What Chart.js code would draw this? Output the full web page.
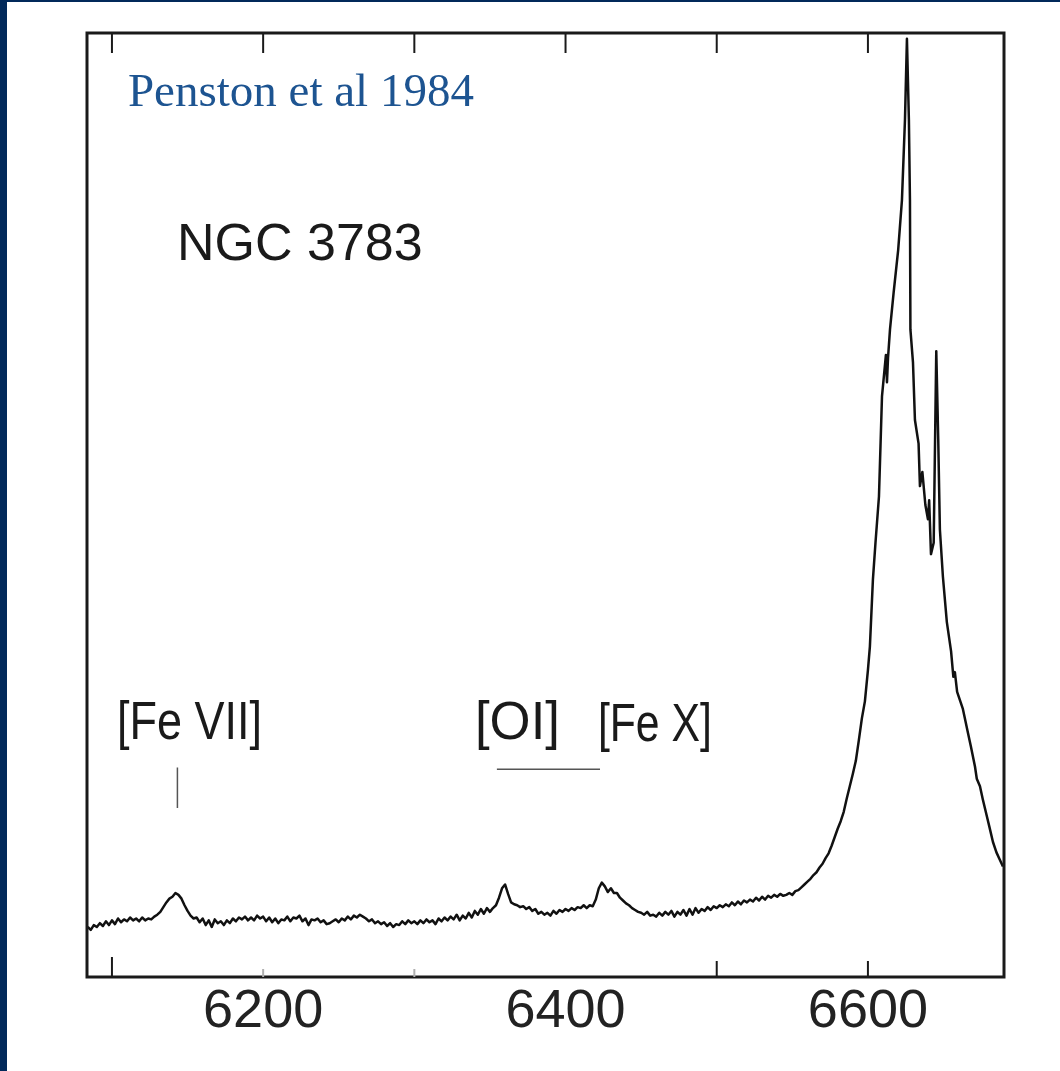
<!DOCTYPE html>
<html>
<head>
<meta charset="utf-8">
<title>NGC 3783</title>
<script src="https://cdn.jsdelivr.net/npm/chart.js@4.4.1/dist/chart.umd.min.js"></script>
<style>
  html, body { margin: 0; padding: 0; background: #fff; }
  #wrap { position: relative; width: 1060px; height: 1071px; }
  #bar-left { position: absolute; left: 0; top: 0; width: 7px; height: 1071px; background: #01295a; }
  #bar-top { position: absolute; left: 0; top: 0; width: 1060px; height: 2px; background: #01295a; }
</style>
</head>
<body>
<div id="wrap">
  <canvas id="spec" width="1060" height="1071"></canvas>
  <div id="bar-left"></div>
  <div id="bar-top"></div>
</div>
<script>
// continuum, sampled every 2 A from 6084 A
const contStart = 6084;
const contStep = 2;
const contFlux = [
  5.3, 5.0, 5.5, 5.3, 5.7, 5.4, 5.9, 5.5, 6.0, 5.6,
  6.2, 5.8, 6.1, 5.9, 6.3, 6.0, 6.2, 5.9, 6.3, 6.0,
  6.2, 6.1, 6.4, 6.6, 6.9, 7.4, 7.9, 8.3, 8.5, 8.9,
  8.7, 8.3, 7.6, 7.0, 6.5, 6.2, 6.3, 5.8, 6.2, 5.5,
  6.0, 5.3, 6.1, 5.7, 5.9, 5.5, 6.0, 5.7, 6.2, 5.9,
  6.3, 6.1, 6.4, 6.0, 6.3, 6.0, 6.5, 6.2, 6.4, 5.9,
  6.3, 5.8, 6.2, 5.7, 6.1, 6.0, 6.4, 5.9, 6.3, 6.2,
  6.5, 5.9, 6.2, 5.5, 6.1, 6.0, 6.2, 5.8, 6.0, 5.6,
  5.7, 5.9, 6.1, 5.8, 6.2, 6.0, 6.4, 6.1, 6.5, 6.3,
  6.6, 6.4, 6.2, 5.9, 6.1, 5.7, 5.9, 5.6, 5.8, 5.4,
  5.7, 5.3, 5.6, 5.5, 5.9, 5.6, 6.0, 5.7, 5.9, 5.6,
  6.0, 5.7, 6.1, 5.8, 6.0, 5.6, 6.2, 5.9, 6.3, 6.0,
  6.4, 6.1, 6.6, 6.0, 6.5, 6.2, 6.8, 6.3, 7.0, 6.6,
  7.2, 6.7, 7.3, 6.9, 7.3, 7.6, 8.4, 9.4, 9.8, 8.8,
  7.9, 7.7, 7.6, 7.4, 7.5, 7.2, 7.4, 7.0, 7.2, 6.7,
  6.9, 6.6, 6.8, 6.5, 7.0, 6.7, 7.1, 6.9, 7.2, 7.0,
  7.3, 7.1, 7.4, 7.3, 7.6, 7.3, 7.6, 7.5, 8.2, 9.4,
  10.0, 9.6, 9.0, 9.4, 8.9, 8.9, 8.4, 8.1, 7.8, 7.6,
  7.3, 7.1, 6.9, 6.8, 6.6, 6.9, 6.5, 6.6, 6.4, 6.8,
  6.5, 6.9, 6.6, 7.0, 6.4, 6.9, 6.6, 7.1, 6.5, 7.2,
  6.6, 7.3, 6.8, 7.2, 7.0, 7.4, 7.1, 7.5, 7.3, 7.6,
  7.4, 7.7, 7.5, 7.9, 7.6, 8.0, 7.7, 8.1, 7.9, 8.2,
  8.0, 8.4, 8.1, 8.5, 8.2, 8.6, 8.4, 8.7, 8.5, 8.8,
  8.6, 8.7, 8.9, 8.7, 9.1, 9.2, 9.5, 9.8, 10.1, 10.4,
  10.8, 11.1, 11.6, 12.0, 12.6, 13.1, 13.9, 14.8, 15.7, 16.5,
  17.5, 18.9, 20.2, 21.5, 22.9, 25.1, 27.4, 29.2
];

// H-alpha + [N II] blend
const lineWave = [
  6600.0, 6601.3, 6603.3, 6605.0, 6607.3, 6609.3, 6611.9, 6612.6, 6613.3, 6614.6,
  6617.0, 6620.0, 6622.5, 6624.5, 6625.8, 6627.1, 6627.8, 6628.1, 6629.8, 6631.1,
  6633.5, 6634.4, 6636.0, 6638.0, 6639.7, 6640.5, 6641.7, 6643.5, 6645.2, 6646.5,
  6647.6, 6649.6, 6652.2, 6655.0, 6656.5, 6657.5, 6659.0, 6662.8, 6664.0, 6666.1,
  6668.0, 6670.8, 6672.0, 6674.1, 6676.0, 6678.7, 6680.5, 6682.7, 6685.0, 6687.0,
  6689.3
];
const lineFlux = [
  32.5, 35.0, 42.1, 46.0, 50.9, 61.5, 65.9, 63.0, 65.6, 68.6,
  72.5, 77.0, 82.3, 90.8, 99.4, 90.8, 82.3, 68.6, 65.1, 59.0,
  56.5, 52.0, 53.5, 50.0, 48.5, 50.5, 44.8, 46.0, 66.3, 57.0,
  47.4, 42.4, 37.6, 34.5, 31.8, 32.3, 30.2, 28.4, 27.5, 25.9,
  24.5, 22.3, 21.0, 20.2, 18.8, 17.0, 15.8, 14.3, 13.2, 12.5,
  11.7
];

const tickWaves = [6100, 6200, 6300, 6400, 6500, 6600];
const labelWaves = [6200, 6400, 6600];

const spectrum = contFlux.map((f, i) => ({ x: contStart + i * contStep, y: f }))
  .concat(lineWave.map((w, i) => ({ x: w, y: lineFlux[i] })));

// box, inward ticks and the line identifications
const frameAndNotes = {
  id: 'frameAndNotes',
  afterDatasetsDraw(chart) {
    const { ctx, chartArea: a, scales: { x, y } } = chart;
    ctx.save();
    ctx.strokeStyle = '#1a1a1a';
    ctx.lineWidth = 3;
    ctx.strokeRect(a.left, a.top, a.right - a.left, a.bottom - a.top);

    ctx.lineWidth = 2;
    tickWaves.forEach(w => {
      const px = x.getPixelForValue(w);
      ctx.strokeStyle = '#1a1a1a';
      ctx.beginPath();
      ctx.moveTo(px, a.top);
      ctx.lineTo(px, a.top + 20);
      ctx.stroke();
      // bottom ticks came out patchy on the plate
      if (w === 6400) return;
      let len = 16;
      if (w === 6100) len = 20;
      if (w === 6200 || w === 6300) { len = 8; ctx.strokeStyle = '#b0b0b0'; }
      ctx.beginPath();
      ctx.moveTo(px, a.bottom);
      ctx.lineTo(px, a.bottom - len);
      ctx.stroke();
    });

    ctx.fillStyle = '#1a1a1a';
    ctx.textBaseline = 'alphabetic';
    ctx.textAlign = 'center';
    ctx.font = '54px "Liberation Sans", Arial, sans-serif';
    ctx.fillText('[Fe VII]', x.getPixelForValue(6151.3), y.getPixelForValue(25.2), 145);
    ctx.fillText('[OI]', x.getPixelForValue(6368.2), y.getPixelForValue(25.2), 85);
    ctx.fillText('[Fe X]', x.getPixelForValue(6459.1), y.getPixelForValue(25.0), 114);

    ctx.strokeStyle = '#555';
    ctx.lineWidth = 1.5;
    ctx.beginPath();
    ctx.moveTo(x.getPixelForValue(6143.3), y.getPixelForValue(22.2));
    ctx.lineTo(x.getPixelForValue(6143.3), y.getPixelForValue(17.9));
    ctx.moveTo(x.getPixelForValue(6354.6), y.getPixelForValue(22.0));
    ctx.lineTo(x.getPixelForValue(6422.8), y.getPixelForValue(22.0));
    ctx.stroke();

    ctx.textAlign = 'left';
    ctx.font = '52px "Liberation Sans", Arial, sans-serif';
    ctx.fillText('NGC 3783', x.getPixelForValue(6143.0), y.getPixelForValue(76.0));

    ctx.fillStyle = '#1d5491';
    ctx.font = '47px "Liberation Serif", "Times New Roman", serif';
    ctx.fillText('Penston et al 1984', x.getPixelForValue(6110.6), y.getPixelForValue(92.3));
    ctx.restore();
  }
};

window.onload = function () {
  const ctx = document.getElementById('spec').getContext('2d');
  new Chart(ctx, {
    type: 'line',
    data: {
      datasets: [{
        data: spectrum,
        borderColor: '#111',
        borderWidth: 2.5,
        borderJoinStyle: 'round',
        pointRadius: 0,
        tension: 0,
        fill: false
      }]
    },
    options: {
      responsive: false,
      animation: false,
      events: [],
      layout: { padding: { left: 87, right: 56, top: 33, bottom: 0 } },
      plugins: { legend: { display: false }, tooltip: { enabled: false } },
      scales: {
        x: {
          type: 'linear',
          min: 6083.5,
          max: 6690,
          afterBuildTicks: s => { s.ticks = tickWaves.map(v => ({ value: v })); },
          afterFit: s => { s.height = 94; },
          grid: { display: false, drawTicks: false },
          border: { display: false },
          ticks: {
            autoSkip: false,
            maxRotation: 0,
            padding: 3,
            color: '#222',
            font: { family: '"Liberation Sans", Arial, sans-serif', size: 54 },
            callback: v => labelWaves.includes(v) ? String(v) : ''
          }
        },
        y: { display: false, min: 0, max: 100 }
      }
    },
    plugins: [frameAndNotes]
  });
};
</script>
</body>
</html>
